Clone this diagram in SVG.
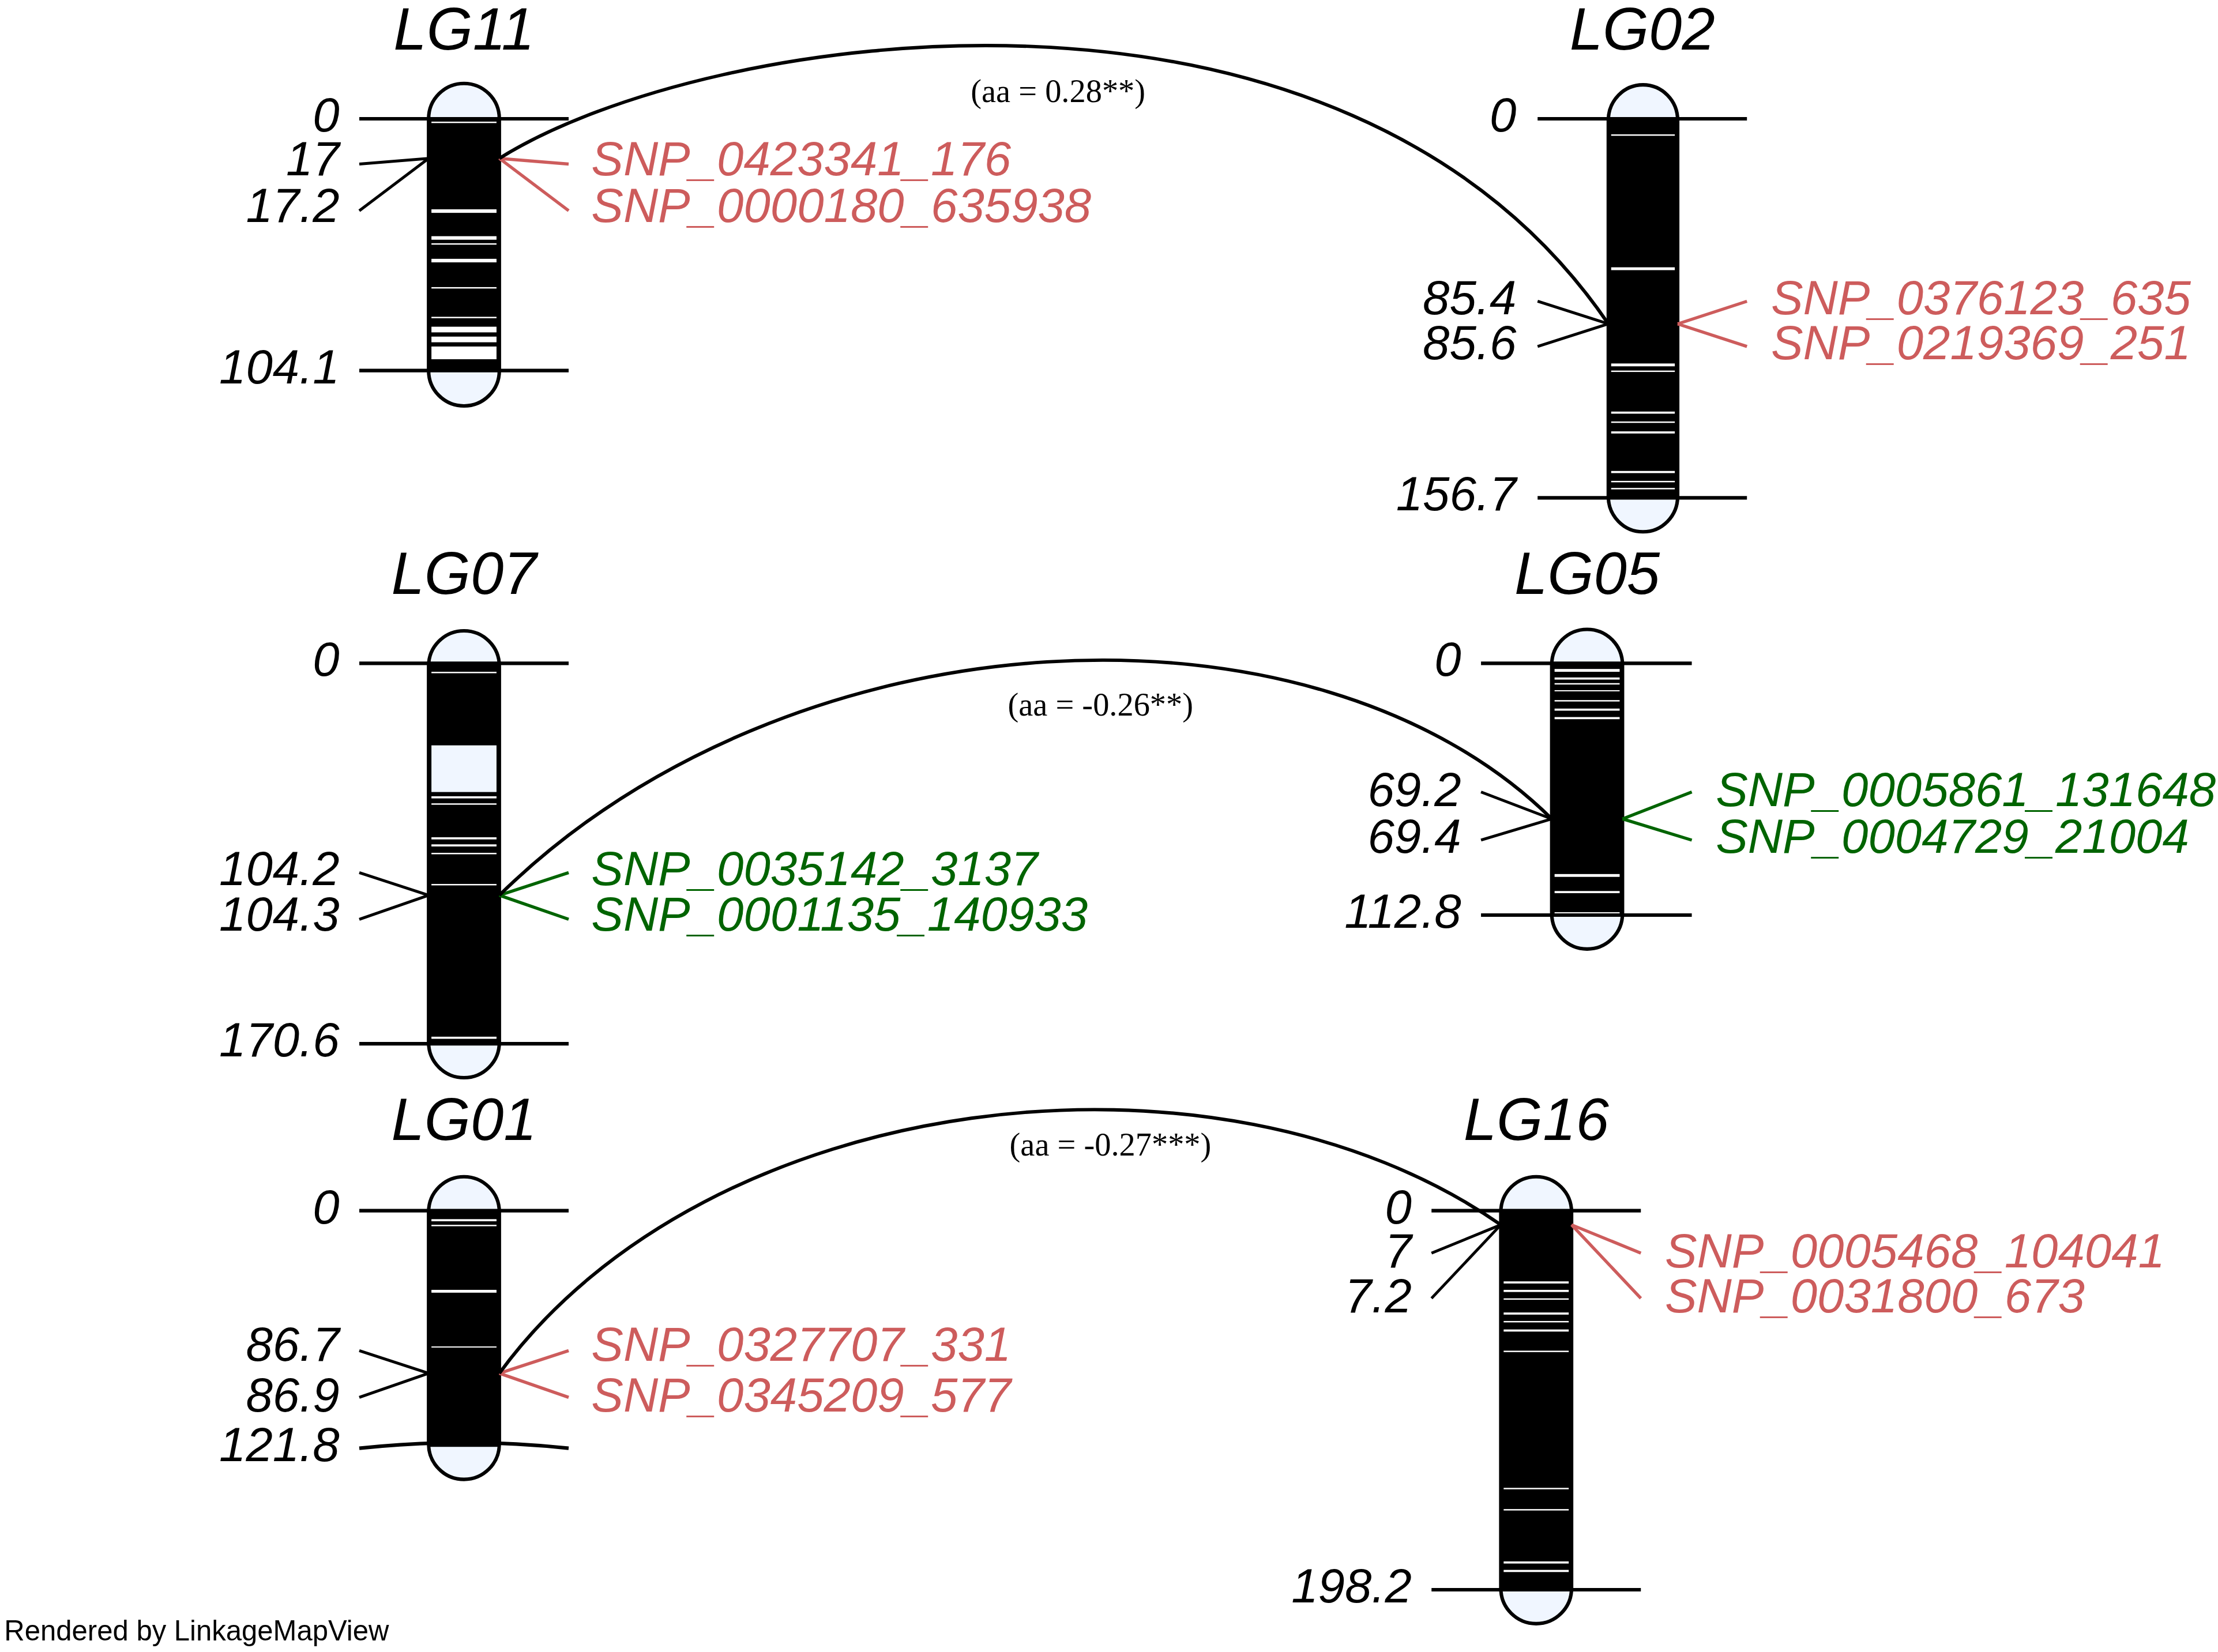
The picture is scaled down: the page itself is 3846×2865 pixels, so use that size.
<svg xmlns="http://www.w3.org/2000/svg" width="3846" height="2865" viewBox="0 0 3846 2865">
<style>
.t{font-family:"Liberation Sans",Arial,sans-serif;font-style:italic;font-size:42px;text-anchor:middle}
.n{font-family:"Liberation Sans",Arial,sans-serif;font-style:italic;font-size:34px;text-anchor:end}
.m{font-family:"Liberation Sans",Arial,sans-serif;font-style:italic;font-size:34px}
.r{fill:#cd5c5c}.g{fill:#006400}
.cap{fill:#f0f6ff;stroke:none}
.out{fill:none;stroke:#000;stroke-width:2.5}
.tk{stroke:#000;stroke-width:2.5}
.rl{stroke:#cd5c5c;stroke-width:2.2}
.gl{stroke:#006400;stroke-width:2.2}
.bl{stroke:#000;stroke-width:2}
.band{fill:#fff}
.c{fill:none;stroke:#000;stroke-width:2.4}
.aa{font-family:"Liberation Serif","Times New Roman",serif;font-size:23px;text-anchor:middle}
</style>
<rect width="3846" height="2865" fill="#fff"/>
<g transform="scale(2.4528)">
<g id="LG11">
<text class="t" x="328" y="35">LG11</text>
<rect class="cap" x="303" y="59" width="50" height="228" rx="25" ry="25"/>
<rect x="303" y="84" width="50" height="178" fill="#000"/>
<g class="band"><rect x="305" y="86" width="46" height="1"/><rect x="305" y="148" width="46" height="2.5"/><rect x="305" y="167" width="46" height="2.5"/><rect x="305" y="172" width="46" height="1"/><rect x="305" y="183" width="46" height="2.5"/><rect x="305" y="203" width="46" height="1"/><rect x="305" y="224" width="46" height="1"/><rect x="305" y="231" width="46" height="4"/><rect x="305" y="238" width="46" height="4"/><rect x="305" y="245" width="46" height="9"/></g>
<rect class="out" x="303" y="59" width="50" height="228" rx="25" ry="25"/>
<line class="tk" x1="254" y1="84" x2="402" y2="84"/><line class="tk" x1="254" y1="262" x2="402" y2="262"/>
<line class="bl" x1="254" y1="116" x2="303" y2="112"/><line class="bl" x1="254" y1="149" x2="303" y2="112"/>
<line class="rl" x1="353" y1="112" x2="402" y2="116"/><line class="rl" x1="353" y1="112" x2="402" y2="149"/>
<text class="n" x="240" y="93">0</text><text class="n" x="240" y="124">17</text><text class="n" x="240" y="157">17.2</text><text class="n" x="240" y="271">104.1</text>
<text class="m r" x="418" y="124">SNP_0423341_176</text><text class="m r" x="418" y="157">SNP_0000180_635938</text>
</g>
<g id="LG02">
<text class="t" x="1161" y="35">LG02</text>
<rect class="cap" x="1137" y="60" width="49" height="316" rx="24.5" ry="25"/>
<rect x="1137" y="84" width="49" height="268" fill="#000"/>
<g class="band"><rect x="1139" y="95" width="45" height="1"/><rect x="1139" y="189" width="45" height="2"/><rect x="1139" y="257" width="45" height="2"/><rect x="1139" y="262" width="45" height="1"/><rect x="1139" y="291" width="45" height="1.5"/><rect x="1139" y="298" width="45" height="1"/><rect x="1139" y="305" width="45" height="1.5"/><rect x="1139" y="333" width="45" height="1.5"/><rect x="1139" y="340" width="45" height="1"/><rect x="1139" y="345" width="45" height="1"/></g>
<rect class="out" x="1137" y="60" width="49" height="316" rx="24.5" ry="25"/>
<line class="tk" x1="1087" y1="84" x2="1235" y2="84"/><line class="tk" x1="1087" y1="352" x2="1235" y2="352"/>
<line class="bl" x1="1087" y1="213" x2="1137" y2="229"/><line class="bl" x1="1087" y1="245" x2="1137" y2="229"/>
<line class="rl" x1="1186" y1="229" x2="1235" y2="213"/><line class="rl" x1="1186" y1="229" x2="1235" y2="245"/>
<text class="n" x="1072" y="93">0</text><text class="n" x="1072" y="222">85.4</text><text class="n" x="1072" y="254">85.6</text><text class="n" x="1072" y="361">156.7</text>
<text class="m r" x="1252" y="222">SNP_0376123_635</text><text class="m r" x="1252" y="254">SNP_0219369_251</text>
</g>
<g id="LG07">
<text class="t" x="328" y="420">LG07</text>
<rect class="cap" x="303" y="446" width="50" height="316" rx="25" ry="25"/>
<rect x="303" y="469" width="50" height="269" fill="#000"/>
<g class="band"><rect x="305" y="475" width="46" height="1"/><rect x="305" y="527" width="46" height="33" fill="#f0f6ff"/><rect x="305" y="563" width="46" height="1.5"/><rect x="305" y="568" width="46" height="1"/><rect x="305" y="592" width="46" height="1.5"/><rect x="305" y="597" width="46" height="1.5"/><rect x="305" y="603" width="46" height="1"/><rect x="305" y="625" width="46" height="1"/><rect x="305" y="733" width="46" height="1.5"/></g>
<rect class="out" x="303" y="446" width="50" height="316" rx="25" ry="25"/>
<line class="tk" x1="254" y1="469" x2="402" y2="469"/><line class="tk" x1="254" y1="738" x2="402" y2="738"/>
<line class="bl" x1="254" y1="617" x2="303" y2="633"/><line class="bl" x1="254" y1="650" x2="303" y2="633"/>
<line class="gl" x1="353" y1="633" x2="402" y2="617"/><line class="gl" x1="353" y1="633" x2="402" y2="650"/>
<text class="n" x="240" y="478">0</text><text class="n" x="240" y="626">104.2</text><text class="n" x="240" y="658">104.3</text><text class="n" x="240" y="747">170.6</text>
<text class="m g" x="418" y="626">SNP_0035142_3137</text><text class="m g" x="418" y="658">SNP_0001135_140933</text>
</g>
<g id="LG05">
<text class="t" x="1122" y="420">LG05</text>
<rect class="cap" x="1097" y="445" width="50" height="226" rx="25" ry="25"/>
<rect x="1097" y="469" width="50" height="178" fill="#000"/>
<g class="band"><rect x="1099" y="473" width="46" height="2"/><rect x="1099" y="479" width="46" height="1.5"/><rect x="1099" y="483" width="46" height="1"/><rect x="1099" y="488" width="46" height="0.8"/><rect x="1099" y="495" width="46" height="1"/><rect x="1099" y="501" width="46" height="1.5"/><rect x="1099" y="507" width="46" height="1.5"/><rect x="1099" y="618" width="46" height="2"/><rect x="1099" y="630" width="46" height="1.5"/><rect x="1099" y="645" width="46" height="1"/></g>
<rect class="out" x="1097" y="445" width="50" height="226" rx="25" ry="25"/>
<line class="tk" x1="1047" y1="469" x2="1196" y2="469"/><line class="tk" x1="1047" y1="647" x2="1196" y2="647"/>
<line class="bl" x1="1047" y1="560" x2="1097" y2="579"/><line class="bl" x1="1047" y1="594" x2="1097" y2="579"/>
<line class="gl" x1="1147" y1="579" x2="1196" y2="560"/><line class="gl" x1="1147" y1="579" x2="1196" y2="594"/>
<text class="n" x="1033" y="478">0</text><text class="n" x="1033" y="570">69.2</text><text class="n" x="1033" y="603">69.4</text><text class="n" x="1033" y="656">112.8</text>
<text class="m g" x="1213" y="570">SNP_0005861_131648</text><text class="m g" x="1213" y="603">SNP_0004729_21004</text>
</g>
<g id="LG01">
<text class="t" x="328" y="806">LG01</text>
<rect class="cap" x="303" y="832" width="50" height="214" rx="25" ry="25"/>
<rect x="303" y="856" width="50" height="167" fill="#000"/>
<g class="band"><rect x="305" y="862" width="46" height="1.5"/><rect x="305" y="866" width="46" height="1"/><rect x="305" y="912" width="46" height="2"/><rect x="305" y="952" width="46" height="0.8"/></g>
<rect class="out" x="303" y="832" width="50" height="214" rx="25" ry="25"/>
<line class="tk" x1="254" y1="856" x2="402" y2="856"/><path class="tk" fill="none" d="M254,1024 Q328,1016 402,1024"/>
<line class="bl" x1="254" y1="955" x2="303" y2="971"/><line class="bl" x1="254" y1="988" x2="303" y2="971"/>
<line class="rl" x1="353" y1="971" x2="402" y2="955"/><line class="rl" x1="353" y1="971" x2="402" y2="988"/>
<text class="n" x="240" y="865">0</text><text class="n" x="240" y="962">86.7</text><text class="n" x="240" y="998">86.9</text><text class="n" x="240" y="1033">121.8</text>
<text class="m r" x="418" y="962">SNP_0327707_331</text><text class="m r" x="418" y="998">SNP_0345209_577</text>
</g>
<g id="LG16">
<text class="t" x="1086" y="806">LG16</text>
<rect class="cap" x="1061" y="832" width="50" height="316" rx="25" ry="25"/>
<rect x="1061" y="856" width="50" height="268" fill="#000"/>
<g class="band"><rect x="1063" y="906" width="46" height="1.5"/><rect x="1063" y="912" width="46" height="1.5"/><rect x="1063" y="918" width="46" height="1"/><rect x="1063" y="928" width="46" height="1.5"/><rect x="1063" y="934" width="46" height="1"/><rect x="1063" y="940" width="46" height="1.5"/><rect x="1063" y="955" width="46" height="1"/><rect x="1063" y="1052" width="46" height="1"/><rect x="1063" y="1067" width="46" height="1"/><rect x="1063" y="1104" width="46" height="1.5"/><rect x="1063" y="1110" width="46" height="1.5"/></g>
<rect class="out" x="1061" y="832" width="50" height="316" rx="25" ry="25"/>
<line class="tk" x1="1012" y1="856" x2="1160" y2="856"/><line class="tk" x1="1012" y1="1124" x2="1160" y2="1124"/>
<line class="bl" x1="1012" y1="886" x2="1061" y2="866"/><line class="bl" x1="1012" y1="918" x2="1061" y2="866"/>
<line class="rl" x1="1111" y1="866" x2="1160" y2="886"/><line class="rl" x1="1111" y1="866" x2="1160" y2="918"/>
<text class="n" x="998" y="865">0</text><text class="n" x="998" y="896">7</text><text class="n" x="998" y="928">7.2</text><text class="n" x="998" y="1133">198.2</text>
<text class="m r" x="1177" y="896">SNP_0005468_104041</text><text class="m r" x="1177" y="928">SNP_0031800_673</text>
</g>
<g id="connectors">
<path class="c" d="M353,112 C500,20 950,-46 1137,229"/>
<path class="c" d="M353,633 C560,430 930,414 1097,579"/>
<path class="c" d="M353,971 C500,770 860,726 1061,866"/>
<text class="aa" x="748" y="72">(aa = 0.28**)</text>
<text class="aa" x="778" y="506">(aa = -0.26**)</text>
<text class="aa" x="785" y="817">(aa = -0.27***)</text>
</g>
<text x="3" y="1160" font-family="Liberation Sans, Arial, sans-serif" font-size="20">Rendered by LinkageMapView</text>
</g>
</svg>
